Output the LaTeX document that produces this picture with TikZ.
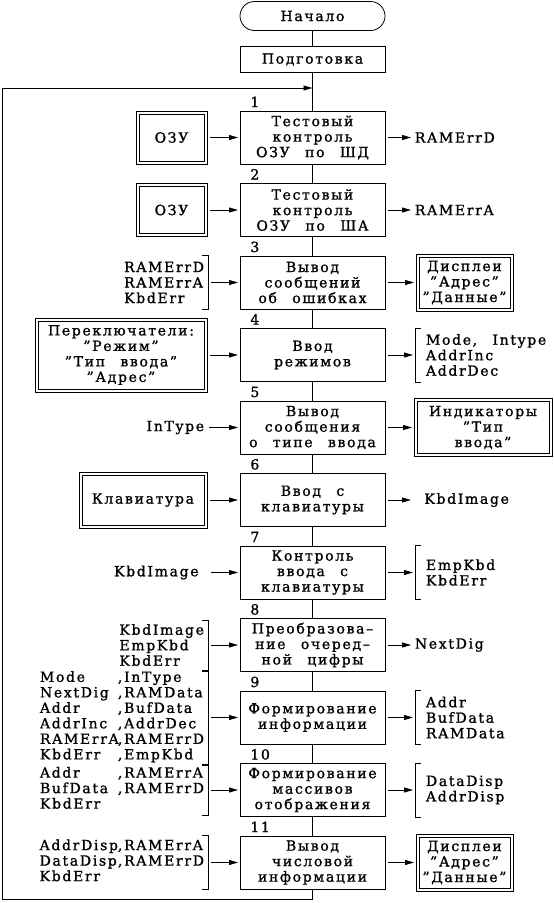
\documentclass[tikz,border=0pt]{standalone}
\usepackage{fontspec}
\setmainfont{DejaVu Serif}[LetterSpace=12, WordSpace=2.5, FakeBold=1.2]
\usetikzlibrary{arrows.meta, positioning, calc}

\begin{document}
\begin{tikzpicture}[
    x=1pt, y=-1pt,
    line width=0.8pt,
    font=\fontsize{14}{15.5}\selectfont,
    terminal/.style = {rectangle, rounded corners=14.5pt, draw, minimum width=145pt, minimum height=29pt, inner sep=0pt, outer sep=0pt},
    prepbox/.style  = {rectangle, draw, minimum width=145pt, minimum height=26pt, inner sep=0pt, outer sep=0pt},
    block/.style    = {rectangle, draw, minimum width=145pt, minimum height=53pt, align=center, inner sep=0pt, outer sep=0pt},
    device/.style   = {rectangle, draw, align=center, inner xsep=6pt, inner ysep=3pt, outer sep=0pt},
    datalist/.style = {align=left, minimum height=54pt, inner xsep=4pt, inner ysep=0pt, outer sep=0pt},
    outlist/.style  = {align=left, minimum height=54pt, inner xsep=11pt, inner ysep=0pt, outer sep=0pt},
    signal/.style   = {inner xsep=1.5pt, inner ysep=1pt},
    num/.style      = {anchor=base west, inner sep=0pt},
    link/.style     = {-{Triangle[length=9pt,width=5pt]}, shorten <=3pt, shorten >=2pt}
]
    \useasboundingbox (0,0) rectangle (554,903);

    % --- Main column ---
    \node (start) [terminal] at (312.5,16) {Начало};
    \node (prep)  [prepbox, below=16pt of start] {Подготовка};
    \node (b1)  [block, below=38.5pt of prep] {Тестовый\\контроль\\ОЗУ по ШД};
    \node (b2)  [block, below=19.5pt of b1] {Тестовый\\контроль\\ОЗУ по ША};
    \node (b3)  [block, below=19.5pt of b2] {Вывод\\сообщений\\об ошибках};
    \node (b4)  [block, below=19.5pt of b3] {Ввод\\режимов};
    \node (b5)  [block, below=19.5pt of b4] {Вывод\\сообщения\\о типе ввода};
    \node (b6)  [block, below=19.5pt of b5] {Ввод с\\клавиатуры};
    \node (b7)  [block, below=19.5pt of b6] {Контроль\\ввода с\\клавиатуры};
    \node (b8)  [block, below=19.5pt of b7] {Преобразова--\\ние очеред--\\ной цифры};
    \node (b9)  [block, below=19.5pt of b8] {Формирование\\информации};
    \node (b10) [block, below=19.5pt of b9] {Формирование\\массивов\\отображения};
    \node (b11) [block, below=19.5pt of b10] {Вывод\\числовой\\информации};

    % block numbers
    \foreach \i in {1,...,11}
        \node [num] at ([shift={(10pt,4pt)}]b\i.north west) {\i};

    % --- Inputs (left side) ---
    \node (ram1) [device, left=33pt of b1, minimum width=71pt, minimum height=53pt] {ОЗУ};
    \node (ram2) [device, left=33pt of b2, minimum width=71pt, minimum height=53pt] {ОЗУ};
    \node (in3)  [datalist, left=32pt of b3] {RAMErrD\\RAMErrA\\KbdErr};
    \node (sw4)  [device, left=33pt of b4, minimum width=172pt, minimum height=74pt] {Переключатели:\\"Режим"\\"Тип ввода"\\"Адрес"};
    \node (in5)  [signal, left=34pt of b5] {InType};
    \node (kbd6) [device, left=33pt of b6, minimum width=128pt, minimum height=56pt] {Клавиатура};
    \node (in7)  [signal, left=32pt of b7, inner xsep=9pt] {KbdImage};
    \node (in8)  [datalist, left=32pt of b8, minimum height=50pt] {KbdImage\\EmpKbd\\KbdErr};
    \node (in9)  [datalist, left=32pt of b9, minimum height=93pt] {%
        \begin{tabular}{@{}p{78pt}@{}l@{}}
            Mode & ,InType\\
            NextDig & ,RAMData\\
            Addr & ,BufData\\
            AddrInc & ,AddrDec\\
            RAMErrA & ,RAMErrD\\
            KbdErr & ,EmpKbd
        \end{tabular}};
    \node (in10) [datalist, left=32pt of b10, minimum height=50pt] {%
        \begin{tabular}{@{}p{78pt}@{}l@{}}
            Addr & ,RAMErrA\\
            BufData & ,RAMErrD\\
            KbdErr &
        \end{tabular}};
    \node (in11) [datalist, left=32pt of b11] {%
        \begin{tabular}{@{}l@{}l@{}}
            AddrDisp & ,RAMErrA\\
            DataDisp & ,RAMErrD\\
            KbdErr &
        \end{tabular}};

    % --- Outputs (right side) ---
    \node (out1)  [signal, right=28pt of b1] {RAMErrD};
    \node (out2)  [signal, right=28pt of b2] {RAMErrA};
    \node (disp3) [device, right=31pt of b3, minimum width=97pt, minimum height=57pt] {Дисплеи\\"Адрес"\\"Данные"};
    \node (out4)  [outlist, right=30pt of b4] {Mode, Intype\\AddrInc\\AddrDec};
    \node (ind5)  [device, right=29pt of b5, minimum width=138pt, minimum height=58pt] {Индикаторы\\"Тип\\ввода"};
    \node (out6)  [signal, right=28pt of b6, inner xsep=11pt] {KbdImage};
    \node (out7)  [outlist, right=30pt of b7] {EmpKbd\\KbdErr};
    \node (out8)  [signal, right=28pt of b8] {NextDig};
    \node (out9)  [outlist, right=30pt of b9] {Addr\\BufData\\RAMData};
    \node (out10) [outlist, right=30pt of b10] {DataDisp\\AddrDisp};
    \node (disp11) [device, right=31pt of b11, minimum width=97pt, minimum height=57pt] {Дисплеи\\"Адрес"\\"Данные"};

    % inner frame of the device boxes
    \foreach \n in {ram1,ram2,sw4,kbd6,disp3,ind5,disp11}
        \draw ([shift={(3pt,-3pt)}]\n.north west) rectangle ([shift={(-3pt,3pt)}]\n.south east);

    % brackets round the lists
    \foreach \n in {in3,in8,in9,in10,in11}
        \draw ([xshift=-6pt]\n.north east) -- (\n.north east) -- (\n.south east) -- ([xshift=-6pt]\n.south east);
    \foreach \n in {out4,out7,out9,out10}
        \draw ([xshift=6pt]\n.north west) -- (\n.north west) -- (\n.south west) -- ([xshift=6pt]\n.south west);

    % --- Spine ---
    \draw (start) -- (prep);
    \draw (prep) -- (b1);
    \foreach \i [count=\j from 2] in {1,...,10}
        \draw (b\i) -- (b\j);

    % --- Data arrows ---
    \draw [link] (ram1) -- (b1);
    \draw [link] (b1) -- (out1);
    \draw [link] (ram2) -- (b2);
    \draw [link] (b2) -- (out2);
    \draw [link] (in3) -- (b3);
    \draw [link] (b3) -- (disp3);
    \draw [link] (sw4) -- (b4);
    \draw [link] (b4) -- (out4);
    \draw [link] (in5) -- (b5);
    \draw [link] (b5) -- (ind5);
    \draw [link] (kbd6) -- (b6);
    \draw [link] (b6) -- (out6);
    \draw [link] (in7) -- (b7);
    \draw [link] (b7) -- (out7);
    \draw [link] (in8) -- (b8);
    \draw [link] (b8) -- (out8);
    \draw [link] (in9) -- (b9);
    \draw [link] (b9) -- (out9);
    \draw [link] (in10) -- (b10);
    \draw [link] (b10) -- (out10);
    \draw [link] (in11) -- (b11);
    \draw [link] (b11) -- (disp11);

    % --- Return loop ---
    \coordinate (back) at ([yshift=-10pt]b11.south);
    \coordinate (edge) at (2,88);
    \draw [link, shorten <=0pt, shorten >=0pt] (b11.south) -- (back) -| (edge) -- (edge -| prep.south);

\end{tikzpicture}
\end{document}
